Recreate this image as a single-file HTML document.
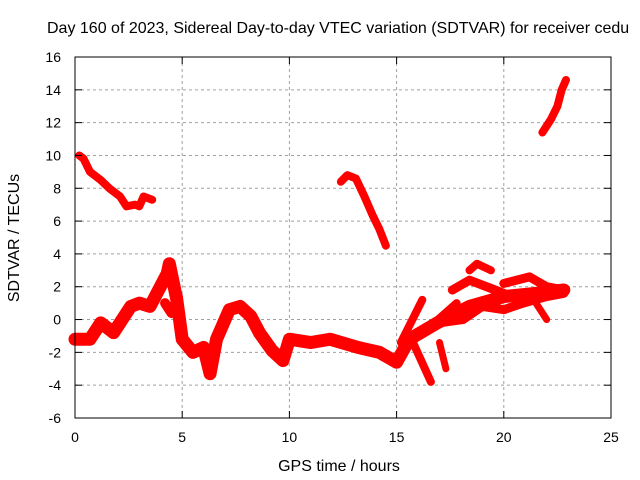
<!DOCTYPE html>
<html><head><meta charset="utf-8"><style>
body{margin:0;background:#fff;}
svg{display:block;font-family:"Liberation Sans",sans-serif;}
</style></head><body>
<svg id="chart" width="640" height="480">
<text x="47" y="33" font-size="16">Day 160 of 2023, Sidereal Day-to-day VTEC variation (SDTVAR) for receiver cedu</text>
<text x="339" y="471" font-size="16" text-anchor="middle">GPS time / hours</text>
<text transform="translate(19,238) rotate(-90)" font-size="16" text-anchor="middle">SDTVAR / TECUs</text>
<g id="grid"></g><g id="marks"></g><g id="axes"></g>
</svg>
<script>
const xTicks=[0,5,10,15,20,25];
const yTicks=[-6,-4,-2,0,2,4,6,8,10,12,14,16];
const s1x=[0.2,0.4,0.7,1.2,1.6,2.1,2.4,2.8,3.0,3.2,3.6];
const s1y=[10,9.8,9,8.5,8,7.5,6.9,7.0,6.9,7.5,7.3];
const s2x=[12.4,12.7,13.1,13.5,13.9,14.2,14.5];
const s2y=[8.4,8.8,8.6,7.5,6.3,5.5,4.5];
const s3x=[21.8,22.2,22.5,22.7,22.9];
const s3y=[11.4,12.2,13.0,14.0,14.6];
const mainX=[0,0.7,1.2,1.8,2.6,3.0,3.5,4.3,4.4,4.75,5.0,5.5,6.0,6.3,6.6,7.2,7.7,8.2,8.6,9.2,9.7,10.0,11.0,11.9,13.2,14.2,15.0,15.6,16.9,18.4,20.0,21.5,22.8];
const mainY=[-1.2,-1.2,-0.2,-0.8,0.8,1.0,0.8,2.8,3.4,1.2,-1.2,-2.0,-1.7,-3.3,-1.2,0.6,0.8,0.2,-0.8,-1.9,-2.5,-1.2,-1.4,-1.2,-1.7,-2.0,-2.6,-1.2,-0.2,0.8,1.4,1.6,1.8];
const b1x=[15.2,16.2], b1y=[-1.4,1.2];
const b2x=[15.8,16.6], b2y=[-1.5,-3.8];
const b3x=[17.0,17.3], b3y=[-1.4,-3.0];
const b4x=[17.6,18.4,19.4,20.0], b4y=[1.8,2.4,1.9,1.6];
const b5x=[18.4,18.75,19.4], b5y=[3.0,3.4,3.0];
const b6x=[20.0,21.2,22.0,22.8], b6y=[2.2,2.6,2.0,1.8];
const b7x=[17.0,18.1,19.0,20.0,20.9,22.0,22.8], b7y=[-0.2,0.0,0.8,0.6,1.0,1.4,1.6];
const b8x=[16.5,17.8], b8y=[-0.5,1.0];
const b9x=[21.5,22.0], b9y=[1.0,0.0];
const b10x=[4.2,4.5,4.8], b10y=[1.0,0.4,1.4];
const L=75,R=611,T=57,B=418;
const X=v=>L+(v-0)/25*(R-L);
const Y=v=>B-(v+6)/22*(B-T);
const NS="http://www.w3.org/2000/svg";
const grid=document.getElementById('grid'),axes=document.getElementById('axes'),marks=document.getElementById('marks');
function mk(t,a,p){const e=document.createElementNS(NS,t);for(const k in a)e.setAttribute(k,a[k]);p.appendChild(e);return e;}
xTicks.forEach(v=>{
 if(v>0&&v<25){const g=mk('line',{x1:X(v),x2:X(v),y1:T,y2:B,stroke:'#a0a0a0','stroke-dasharray':'3,3'},grid);
 
 }
 const t=mk('text',{x:X(v),y:B+24,'font-size':14,'text-anchor':'middle'},axes);t.textContent=v;
 
 
 mk('line',{x1:X(v),x2:X(v),y1:B,y2:B-7,stroke:'#000'},axes);
 mk('line',{x1:X(v),x2:X(v),y1:T,y2:T+7,stroke:'#000'},axes);
});
yTicks.forEach(v=>{
 if(v>-6&&v<16){const g=mk('line',{x1:L,x2:R,y1:Y(v),y2:Y(v),stroke:'#a0a0a0','stroke-dasharray':'3,3'},grid);
 
 }
 const t=mk('text',{x:L-14,y:Y(v)+5,'font-size':14,'text-anchor':'end'},axes);t.textContent=v;
 
 
 mk('line',{x1:L,x2:L+7,y1:Y(v),y2:Y(v),stroke:'#000'},axes);
 mk('line',{x1:R,x2:R-7,y1:Y(v),y2:Y(v),stroke:'#000'},axes);
});
const fr=mk('rect',{x:L,y:T,width:R-L,height:B-T,fill:'none',stroke:'#000'},axes);


function series(xs,ys,w,name){
 const p=mk('polyline',{points:xs.map((x,i)=>X(x)+','+Y(ys[i])).join(' '),fill:'none',stroke:'#ff0000','stroke-width':w,'stroke-linejoin':'round','stroke-linecap':'round'},marks);
 
 
}
series(s1x,s1y,8,'series-early-high');
series(s2x,s2y,8,'series-midday-high');
series(s3x,s3y,8,'series-late-high');
series(mainX,mainY,13,'series-main-band');
series(b1x,b1y,8,'series-branch-1');
series(b2x,b2y,8,'series-branch-2');
series(b3x,b3y,7,'series-branch-3');
series(b4x,b4y,9,'series-branch-4');
series(b5x,b5y,8,'series-branch-5');
series(b6x,b6y,9,'series-branch-6');
series(b7x,b7y,9,'series-branch-7');
series(b8x,b8y,8,'series-branch-8');
series(b9x,b9y,7,'series-branch-9');
series(b10x,b10y,10,'series-branch-10');
</script>
</body></html>
